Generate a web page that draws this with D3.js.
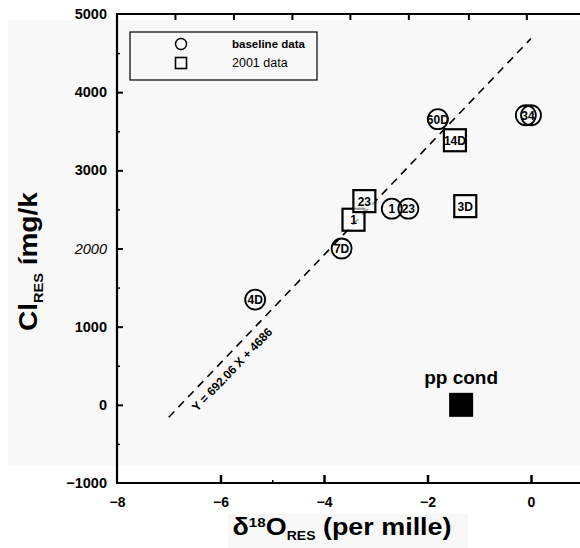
<!DOCTYPE html>
<html><head><meta charset="utf-8">
<script src="https://cdn.jsdelivr.net/npm/d3@7"></script>
<style>body{margin:0;background:#fff}svg{display:block}text{font-family:"Liberation Sans",Arial,sans-serif}</style>
</head><body><svg id="c" width="580" height="548"></svg>
<script>
// ---- data ----
const baselineX = [-5.33, -3.66, -2.69, -2.37, -1.80, -0.10, 0.00];
const baselineY = [1346, 2000, 2509, 2509, 3654, 3705, 3705];
const baselineLabels = ["4D", "7D", "1", "23", "60D", "", "34"];
const data2001X = [-3.43, -3.22, -1.47, -1.27];
const data2001Y = [2368, 2606, 3385, 2542];
const data2001Labels = ["1", "23", "14D", "3D"];
const ppX = [-1.35];
const ppY = [0];
const fitSlope = 692.06, fitIntercept = 4686;
const fitRange = [-7, 0];
const xTicks = [-8, -6, -4, -2, 0];
const xMinorTicks = [-5];
const yTicks = [-1000, 0, 1000, 2000, 3000, 4000, 5000];
const yMinorTicks = [-500, 500, 1500, 2500, 3500, 4500];
const topTicks = [-6.88, -5.75, -4.62, -3.5, -2.37, -1.21, -0.09];

const svg = d3.select("#c");
// scan-like background
svg.append("rect").attr("x",8).attr("y",20).attr("width",572).attr("height",446).attr("fill","#f8f8f8");
svg.append("rect").attr("x",228).attr("y",514).attr("width",240).attr("height",34).attr("fill","#f8f8f8");

const x = d3.scaleLinear().domain([-8, 0]).range([117, 531]);
const y = d3.scaleLinear().domain([-1000, 5000]).range([483, 14]);

// axes lines
const g = svg.append("g");
g.append("line").attr("x1",x(-8)).attr("x2",580).attr("y1",y(-1000)).attr("y2",y(-1000)).attr("stroke","#000").attr("stroke-width",2.2);
g.append("line").attr("x1",x(-8)).attr("x2",580).attr("y1",y(5000)).attr("y2",y(5000)).attr("stroke","#000").attr("stroke-width",2);
g.append("line").attr("x1",x(-8)).attr("x2",x(-8)).attr("y1",y(5000)-1).attr("y2",y(-1000)+1).attr("stroke","#000").attr("stroke-width",2.2);

// bottom axis
const xa = svg.append("g").attr("transform",`translate(0,${y(-1000)})`)
  .call(d3.axisBottom(x).tickValues(xTicks).tickSize(-8).tickPadding(14).tickFormat(d3.format("d")));
xa.select(".domain").remove();
xa.selectAll(".tick line").attr("stroke-width",2.5);
xa.selectAll(".tick text").attr("font-size",14).attr("font-weight","bold").attr("fill","#000");
xa.selectAll(".tick").filter(d=>d===-8).select("line").remove();
svg.append("g").attr("transform",`translate(0,${y(-1000)})`)
  .call(d3.axisBottom(x).tickValues(xMinorTicks).tickSize(-3).tickFormat(""))
  .call(a=>a.select(".domain").remove()).selectAll("line").attr("stroke-width",1.5);
// top ticks
svg.append("g").attr("transform",`translate(0,${y(5000)})`)
  .call(d3.axisTop(x).tickValues(topTicks).tickSize(-6).tickFormat(""))
  .call(a=>a.select(".domain").remove()).selectAll("line").attr("stroke-width",2);

// left axis
const ya = svg.append("g").attr("transform",`translate(${x(-8)},0)`)
  .call(d3.axisLeft(y).tickValues(yTicks).tickSize(-6).tickPadding(10).tickFormat(d3.format("d")));
ya.select(".domain").remove();
ya.selectAll(".tick line").attr("stroke-width",2);
ya.selectAll(".tick").filter(d=>d===-1000||d===5000).select("line").remove();
ya.selectAll(".tick text").attr("font-size",14.5).attr("fill","#000")
  .attr("font-style",d=>d===2000?"italic":"normal").attr("font-weight",d=>d===2000?"normal":"bold");
svg.append("g").attr("transform",`translate(${x(-8)},0)`)
  .call(d3.axisLeft(y).tickValues(yMinorTicks).tickSize(-3).tickFormat(""))
  .call(a=>a.select(".domain").remove()).selectAll("line").attr("stroke-width",1.5);

// fit line
svg.append("line")
  .attr("x1",x(fitRange[0])).attr("y1",y(fitSlope*fitRange[0]+fitIntercept))
  .attr("x2",x(fitRange[1])).attr("y2",y(fitSlope*fitRange[1]+fitIntercept))
  .attr("stroke","#000").attr("stroke-width",1.6).attr("stroke-dasharray","8,6");
const ang = -Math.atan2(y(0)-y(fitSlope), x(1)-x(0))*180/Math.PI;
const lx = -5.95, ly = fitSlope*lx + fitIntercept;
svg.append("text").attr("transform",`translate(${x(lx)+12},${y(ly)+12}) rotate(${ang})`)
  .attr("text-anchor","middle").attr("font-size",12).attr("font-weight","bold")
  .text(`Y = ${fitSlope.toFixed(2)} X + ${fitIntercept}`);

// baseline circles
const bl = svg.append("g");
baselineX.forEach((vx,i)=>{
  bl.append("circle").attr("cx",x(vx)).attr("cy",y(baselineY[i])).attr("r",10)
    .attr("fill","none").attr("stroke","#000").attr("stroke-width",1.8);
});
baselineX.forEach((vx,i)=>{
  bl.append("text").attr("x",x(vx)-(baselineLabels[i]==="34"?3:0)).attr("y",y(baselineY[i])+4.5)
    .attr("text-anchor","middle").attr("font-size",12).attr("font-weight","bold").text(baselineLabels[i]);
});
// 2001 squares
const sq = svg.append("g");
data2001X.forEach((vx,i)=>{
  sq.append("rect").attr("x",x(vx)-11).attr("y",y(data2001Y[i])-11).attr("width",22).attr("height",22)
    .attr("fill","#fff").attr("fill-opacity",0.6).attr("stroke","#000").attr("stroke-width",2.2);
  sq.append("text").attr("x",x(vx)).attr("y",y(data2001Y[i])+4.5)
    .attr("text-anchor","middle").attr("font-size",12).attr("font-weight","bold").text(data2001Labels[i]);
});
// pp cond
ppX.forEach((vx,i)=>{
  svg.append("rect").attr("x",x(vx)-12).attr("y",y(ppY[i])-12).attr("width",24).attr("height",24).attr("fill","#000");
  svg.append("text").attr("x",x(vx)).attr("y",y(ppY[i])-21).attr("text-anchor","middle")
    .attr("font-size",19).attr("font-weight","bold").text("pp cond");
});

// legend
const lg = svg.append("g");
lg.append("rect").attr("x",130).attr("y",32).attr("width",187).attr("height",48)
  .attr("fill","none").attr("stroke","#000").attr("stroke-width",1.2);
lg.append("circle").attr("cx",181).attr("cy",44).attr("r",5.5).attr("fill","none").attr("stroke","#000").attr("stroke-width",1.4);
lg.append("rect").attr("x",175.5).attr("y",57.5).attr("width",11).attr("height",11).attr("fill","none").attr("stroke","#000").attr("stroke-width",1.6);
lg.append("text").attr("x",232).attr("y",48).attr("font-size",11.5).attr("font-weight","bold").text("baseline data");
lg.append("text").attr("x",232).attr("y",67).attr("font-size",12.5).text("2001 data");

// x title
const xt = svg.append("text").attr("transform","translate(342,535) scale(1.17,1)").attr("text-anchor","middle").attr("font-weight","bold").attr("font-size",23);
xt.append("tspan").text("δ");
xt.append("tspan").attr("font-size",13).attr("dy",-8).text("18");
xt.append("tspan").attr("dy",8).text("O");
xt.append("tspan").attr("font-size",12).attr("dy",5).text("RES");
xt.append("tspan").attr("dy",-5).text(" (per mille)");

// y title
const yt = svg.append("text").attr("transform","translate(37,331) rotate(-90) scale(1.12,1)").attr("text-anchor","start").attr("font-weight","bold").attr("font-size",25);
yt.append("tspan").text("Cl");
yt.append("tspan").attr("font-size",13).attr("dy",6).text("RES");
yt.append("tspan").attr("dy",-6).text("  ímg/k");
</script></body></html>
